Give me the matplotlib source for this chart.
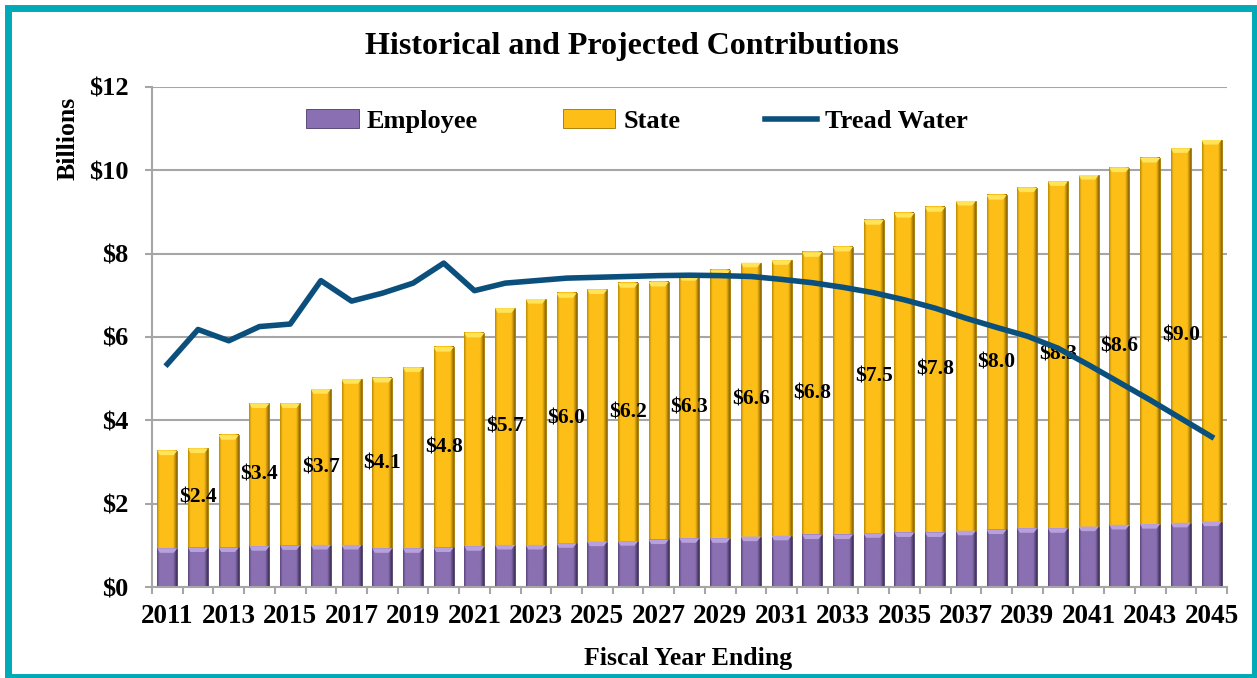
import numpy as np
import matplotlib.pyplot as plt
from matplotlib.colors import LinearSegmentedColormap
from matplotlib.patches import Rectangle, Polygon
from matplotlib.ticker import FuncFormatter, MultipleLocator

years = list(range(2011, 2046))
employee = [0.94, 0.96, 0.96, 0.99, 1.01, 1.02, 1.02, 0.94, 0.94, 0.96,
            0.99, 1.02, 1.02, 1.06, 1.10, 1.11, 1.15, 1.18, 1.18, 1.22,
            1.24, 1.27, 1.27, 1.30, 1.32, 1.32, 1.36, 1.39, 1.42, 1.42,
            1.46, 1.50, 1.52, 1.55, 1.58]
state = [2.34, 2.37, 2.69, 3.42, 3.40, 3.73, 3.97, 4.08, 4.33, 4.80,
         5.11, 5.67, 5.89, 5.99, 6.04, 6.18, 6.17, 6.28, 6.42, 6.56,
         6.60, 6.76, 6.89, 7.50, 7.65, 7.79, 7.90, 8.01, 8.16, 8.31,
         8.42, 8.56, 8.77, 8.97, 9.14]
tread_water = [5.35, 6.18, 5.91, 6.25, 6.31, 7.35, 6.86, 7.05, 7.29, 7.77,
               7.11, 7.29, 7.35, 7.41, 7.43, 7.45, 7.47, 7.48, 7.47, 7.45,
               7.38, 7.30, 7.19, 7.06, 6.89, 6.69, 6.45, 6.23, 6.02, 5.73,
               5.33, 4.91, 4.49, 4.05, 3.61]
label_years = years[1::2]

plt.rcParams['font.family'] = ['Liberation Serif', 'DejaVu Serif']
plt.rcParams['font.weight'] = 'bold'

grey = '#a6a6a6'
purple = '#8a70b2'
gold = '#fdbf17'
navy = '#0b4f7c'
teal = '#00a9b8'

fig = plt.figure(figsize=(12.57, 6.78), dpi=100)
ax = fig.add_axes([0.1209, 0.1335, 0.8552, 0.7389])

x = np.array(years)
w = 0.65
emp_bars = ax.bar(x, employee, w, color=purple, edgecolor='#4a3a68', linewidth=0.6,
                  label='Employee', zorder=2)
st_bars = ax.bar(x, state, w, bottom=employee, color=gold, edgecolor='#9a7300',
                 linewidth=0.6, label='State', zorder=2)

# bevel-like shading across each bar, plus a lighter cap on top
grad = np.linspace(0, 1, 64).reshape(1, -1)
shading = {
    'emp': (LinearSegmentedColormap.from_list('emp', [(0, '#5a467e'), (0.12, '#8a70b2'),
                                                      (0.82, '#8a70b2'), (1, '#3e3058')]),
            '#b8a0dc'),
    'st': (LinearSegmentedColormap.from_list('st', [(0, '#b88a05'), (0.12, '#fdbf17'),
                                                    (0.82, '#fdbf17'), (1, '#8a6500')]),
           '#ffe45a'),
}
cap_h = 0.11
for bars, key in [(emp_bars, 'emp'), (st_bars, 'st')]:
    cmap, cap_color = shading[key]
    for b in bars:
        bx, by, bw, bh = b.get_x(), b.get_y(), b.get_width(), b.get_height()
        ax.imshow(grad, cmap=cmap, extent=[bx, bx + bw, by, by + bh],
                  aspect='auto', zorder=2.1, interpolation='bilinear')
        top = by + bh
        ax.add_patch(Polygon([(bx, top), (bx + bw, top), (bx + bw * 0.82, top - cap_h),
                              (bx + bw * 0.12, top - cap_h)], closed=True,
                             facecolor=cap_color, edgecolor='none', zorder=2.2))

line, = ax.plot(x, tread_water, color=navy, lw=4, label='Tread Water', zorder=4)

for yr, e, s in zip(years, employee, state):
    if yr in label_years:
        ax.text(yr, e + s / 2, f'${s:.1f}', ha='center', va='center',
                fontsize=15.5, fontweight='bold', color='black', zorder=3)

ax.set_xlim(2010.5, 2045.5)
ax.set_ylim(0, 12)
ax.yaxis.set_major_locator(MultipleLocator(2))
ax.yaxis.set_major_formatter(FuncFormatter(lambda v, p: f'${v:.0f}'))
ax.set_xticks(years[::2])
ax.set_xticks(np.arange(2010.5, 2046, 1), minor=True)
ax.tick_params(axis='x', which='major', length=0, pad=12, labelsize=19.5)
ax.tick_params(axis='x', which='minor', length=5, width=1.5, color=grey)
ax.tick_params(axis='y', length=5, width=1.5, color=grey, pad=12, labelsize=19)

ax.grid(axis='y', color=grey, lw=1.5, zorder=0)
ax.set_axisbelow(True)
for side in ['top', 'right']:
    ax.spines[side].set_visible(False)
for side in ['left', 'bottom']:
    ax.spines[side].set_color(grey)
    ax.spines[side].set_linewidth(1.5)

fig.text(0.5024, 0.9307, 'Historical and Projected Contributions', ha='center',
         va='center', fontsize=23, fontweight='bold')
fig.text(0.054, 0.796, 'Billions', rotation=90, ha='center', va='center',
         fontsize=18.5, fontweight='bold')
fig.text(0.547, 0.029, 'Fiscal Year Ending', ha='center', va='center',
         fontsize=18.5, fontweight='bold')

fig.legend(handles=[emp_bars, st_bars, line], loc='center',
           bbox_to_anchor=(0.507, 0.8215), ncol=3, frameon=False, fontsize=19,
           handlelength=2.0, handletextpad=0.3, columnspacing=3.2)

fig.patches.append(Rectangle((0.006, 0.0015), 0.9925, 0.9867, transform=fig.transFigure,
                             fill=False, edgecolor=teal, linewidth=5, zorder=10))

plt.savefig('out.png')
